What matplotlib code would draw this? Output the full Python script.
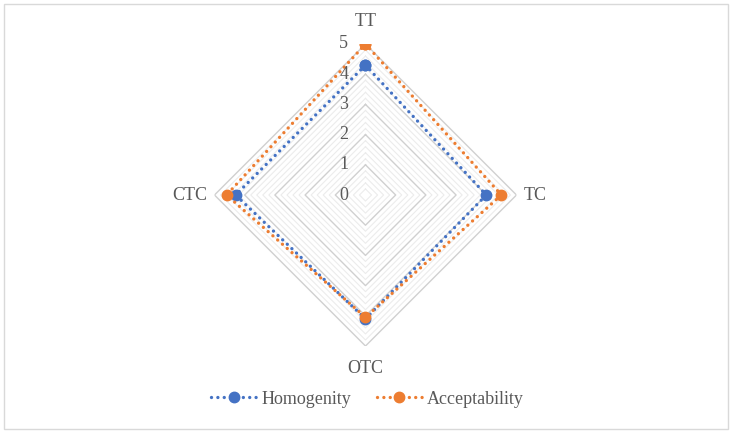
import numpy as np
import matplotlib.pyplot as plt
from matplotlib.patches import Rectangle

# Data
categories = ['TT', 'TC', 'OTC', 'CTC']
homogenity = [4.3, 4.0, 4.1, 4.3]
acceptability = [5.0, 4.5, 4.05, 4.6]
r_ticks = [0, 1, 2, 3, 4, 5]

blue = '#4472C4'
orange = '#ED7D31'
text_col = '#595959'
plt.rcParams['font.family'] = ['Liberation Serif', 'DejaVu Serif']

fig = plt.figure(figsize=(7.32, 4.33), dpi=100)
fig.patches.append(Rectangle((0.006, 0.009), 0.988, 0.982, transform=fig.transFigure,
                             fill=False, edgecolor='#d9d9d9', linewidth=1))

ax = fig.add_axes([0.293, 0.2009, 0.4126, 0.6975], projection='polar')
ax.set_theta_zero_location('N')
ax.set_theta_direction(-1)
ax.set_ylim(0, 5)
ax.grid(False)
ax.spines['polar'].set_visible(False)
ax.set_xticks([])
ax.set_yticks([])

angles = np.linspace(0, 2 * np.pi, len(categories), endpoint=False)
closed = np.append(angles, angles[0])

# polygon gridlines: minor every 0.2, major at integers
for lvl in np.arange(0.2, 5.01, 0.2):
    is_major = abs(lvl - round(lvl)) < 1e-6
    ax.plot(closed, [lvl] * len(closed),
            color='#d0d0d0' if is_major else '#ececec',
            linewidth=1.0 if is_major else 0.8, zorder=1)

for vals, col, name in [(homogenity, blue, 'Homogenity'), (acceptability, orange, 'Acceptability')]:
    v = np.append(vals, vals[0])
    ax.plot(closed, v, color=col, linestyle=(0, (0.01, 1.9)), linewidth=2.4,
            dash_capstyle='round', marker='o', markersize=7.5, label=name, zorder=3)

# radial value labels to the left of the top axis
for t in r_ticks:
    ax.annotate(str(t), xy=(0, t), xytext=(-12.5, 0), textcoords='offset points',
                ha='right', va='center', fontsize=13, color=text_col)

# category labels
offsets = [(0, 16), (5, 0), (0, -16), (-5, 0)]
aligns = [('center', 'center'), ('left', 'center'), ('center', 'center'), ('right', 'center')]
for ang, lab, off, (ha, va) in zip(angles, categories, offsets, aligns):
    ax.annotate(lab, xy=(ang, 5), xytext=off, textcoords='offset points',
                ha=ha, va=va, fontsize=13, color=text_col)

fig.legend(loc='center', bbox_to_anchor=(0.502, 0.0785), ncol=2, frameon=False,
           fontsize=13, handlelength=2.5, handletextpad=0.3, columnspacing=1.4,
           labelcolor=text_col)

fig.savefig('out.png', dpi=100)
